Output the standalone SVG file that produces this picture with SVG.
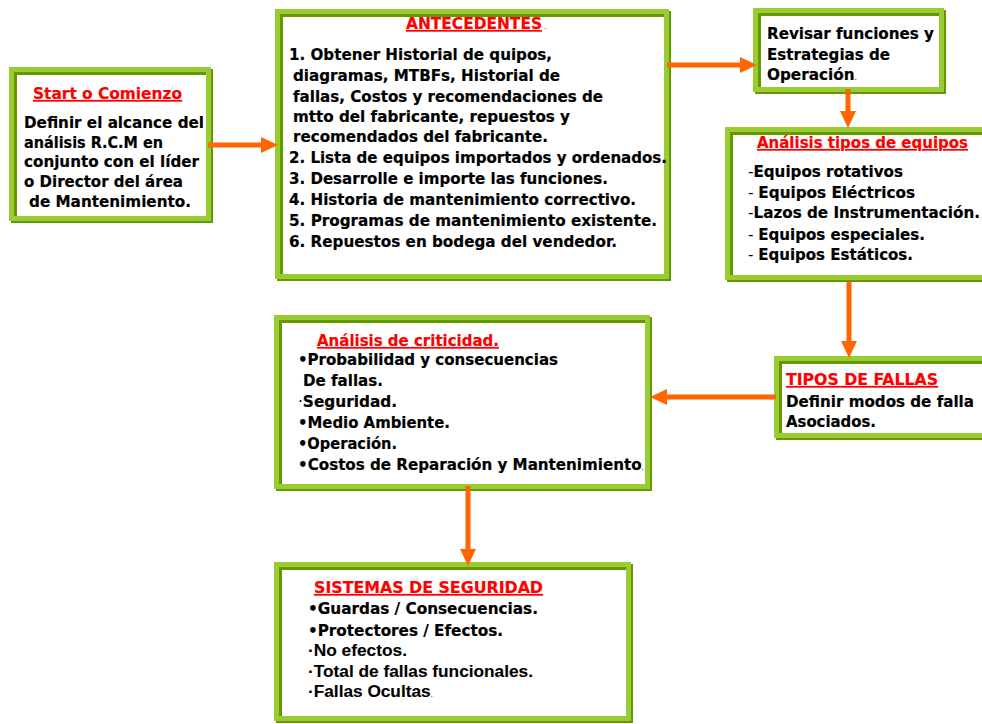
<svg xmlns="http://www.w3.org/2000/svg" width="982" height="724" viewBox="0 0 982 724">
  <style>
    .shadow { fill: #669900; }
    .frame { fill: #99cc33; }
    .inner { fill: #669900; }
    .face { fill: #ffffff; }
    text { font-family: "DejaVu Sans", Verdana, sans-serif; font-weight: bold; font-size: 16px; fill: #000000; stroke: #000000; stroke-width: 0.2px; }
    .title { fill: #ff0000; stroke: #ff0000; text-decoration: underline; }
    .thin { font-weight: normal; stroke-width: 0; }
    .tiny { font-weight: normal; font-size: 8px; stroke-width: 0; }
    .arial { font-family: "Liberation Sans", Arial, sans-serif; font-size: 16px; stroke-width: 0.1px; }
    .conn { stroke: #ff6600; stroke-width: 5; fill: none; marker-end: url(#head); }
  </style>
  <defs>
    <marker id="head" markerUnits="userSpaceOnUse" markerWidth="17" markerHeight="16" refX="0" refY="8" orient="auto">
      <path d="M0,0 L17,8 L0,16 Z" fill="#ff6600"/>
    </marker>
  </defs>

  <rect width="982" height="724" fill="#ffffff"/>

  <!-- Start o Comienzo -->
  <g id="start">
    <rect class="shadow" x="11" y="69" width="202" height="154"/>
    <rect class="frame" x="9" y="67" width="202" height="154"/>
    <rect class="inner" x="14" y="72" width="192" height="144"/>
    <rect class="face" x="17" y="75" width="189" height="141"/>
    <text class="title" x="33" y="99" textLength="149" lengthAdjust="spacingAndGlyphs">Start o Comienzo</text>
    <text x="24" y="128" textLength="180" lengthAdjust="spacingAndGlyphs">Definir el alcance del</text>
    <text x="24" y="148" textLength="139" lengthAdjust="spacingAndGlyphs">análisis R.C.M en</text>
    <text x="24" y="167" textLength="175" lengthAdjust="spacingAndGlyphs">conjunto con el líder</text>
    <text x="24" y="187" textLength="159" lengthAdjust="spacingAndGlyphs">o Director del área</text>
    <text x="29" y="207" textLength="162" lengthAdjust="spacingAndGlyphs">de Mantenimiento.</text>
  </g>

  <!-- Antecedentes -->
  <g id="antecedentes">
    <rect class="shadow" x="277" y="11" width="394" height="270"/>
    <rect class="frame" x="275" y="9" width="394" height="270"/>
    <rect class="inner" x="280" y="14" width="384" height="260"/>
    <rect class="face" x="283" y="17" width="381" height="257"/>
    <text class="title" x="406" y="29" textLength="136" lengthAdjust="spacingAndGlyphs">ANTECEDENTES</text>
    <text class="tiny" x="544" y="29" style="fill:#ff0000">.</text>
    <text x="289" y="60" textLength="263" lengthAdjust="spacingAndGlyphs">1. Obtener Historial de quipos,</text>
    <text x="293" y="81" textLength="267" lengthAdjust="spacingAndGlyphs">diagramas, MTBFs, Historial de</text>
    <text x="293" y="102" textLength="310" lengthAdjust="spacingAndGlyphs">fallas, Costos y recomendaciones de</text>
    <text x="293" y="122" textLength="277" lengthAdjust="spacingAndGlyphs">mtto del fabricante, repuestos y</text>
    <text x="293" y="142" textLength="255" lengthAdjust="spacingAndGlyphs">recomendados del fabricante.</text>
    <text x="289" y="163" textLength="378" lengthAdjust="spacingAndGlyphs">2. Lista de equipos importados y ordenados.</text>
    <text x="289" y="184" textLength="319" lengthAdjust="spacingAndGlyphs">3. Desarrolle e importe las funciones.</text>
    <text x="289" y="205" textLength="347" lengthAdjust="spacingAndGlyphs">4. Historia de mantenimiento correctivo.</text>
    <text x="289" y="226" textLength="368" lengthAdjust="spacingAndGlyphs">5. Programas de mantenimiento existente.</text>
    <text x="289" y="247" textLength="328" lengthAdjust="spacingAndGlyphs">6. Repuestos en bodega del vendedor.</text>
  </g>

  <!-- Revisar funciones -->
  <g id="revisar">
    <rect class="shadow" x="755" y="10" width="191" height="84"/>
    <rect class="frame" x="753" y="8" width="191" height="84"/>
    <rect class="inner" x="758" y="13" width="181" height="74"/>
    <rect class="face" x="761" y="16" width="178" height="71"/>
    <text x="767" y="39" textLength="167" lengthAdjust="spacingAndGlyphs">Revisar funciones y</text>
    <text x="767" y="60" textLength="123" lengthAdjust="spacingAndGlyphs">Estrategias de</text>
    <text x="767" y="80" textLength="90" lengthAdjust="spacingAndGlyphs">Operación<tspan class="tiny">.</tspan></text>
  </g>

  <!-- Análisis tipos de equipos -->
  <g id="tipos-equipos">
    <rect class="shadow" x="727" y="129" width="265" height="153"/>
    <rect class="frame" x="725" y="127" width="265" height="153"/>
    <rect class="inner" x="730" y="132" width="262" height="143"/>
    <rect class="face" x="733" y="135" width="259" height="140"/>
    <text class="title" x="757" y="148" textLength="211" lengthAdjust="spacingAndGlyphs">Análisis tipos de equipos</text>
    <text x="748" y="177" textLength="155" lengthAdjust="spacingAndGlyphs"><tspan class="thin">-</tspan>Equipos rotativos</text>
    <text x="748" y="198" textLength="167" lengthAdjust="spacingAndGlyphs"><tspan class="thin">- </tspan>Equipos Eléctricos</text>
    <text x="748" y="218" textLength="232" lengthAdjust="spacingAndGlyphs"><tspan class="thin">-</tspan>Lazos de Instrumentación.</text>
    <text x="748" y="240" textLength="177" lengthAdjust="spacingAndGlyphs"><tspan class="thin">- </tspan>Equipos especiales.</text>
    <text x="748" y="260" textLength="165" lengthAdjust="spacingAndGlyphs"><tspan class="thin">- </tspan>Equipos Estáticos.</text>
  </g>

  <!-- Análisis de criticidad -->
  <g id="criticidad">
    <rect class="shadow" x="276" y="317" width="376" height="174"/>
    <rect class="frame" x="274" y="315" width="376" height="174"/>
    <rect class="inner" x="279" y="320" width="366" height="164"/>
    <rect class="face" x="282" y="323" width="363" height="161"/>
    <text class="title" x="317" y="346" textLength="182" lengthAdjust="spacingAndGlyphs">Análisis de criticidad.</text>
    <text x="298" y="365" textLength="260" lengthAdjust="spacingAndGlyphs">•Probabilidad y consecuencias</text>
    <text x="303" y="386" textLength="80" lengthAdjust="spacingAndGlyphs">De fallas.</text>
    <text x="298" y="407" textLength="99" lengthAdjust="spacingAndGlyphs"><tspan class="thin">·</tspan>Seguridad.</text>
    <text x="298" y="428" textLength="152" lengthAdjust="spacingAndGlyphs">•Medio Ambiente.</text>
    <text x="298" y="449" textLength="99" lengthAdjust="spacingAndGlyphs">•Operación.</text>
    <text x="298" y="470" textLength="346" lengthAdjust="spacingAndGlyphs">•Costos de Reparación y Mantenimiento<tspan class="tiny">.</tspan></text>
  </g>

  <!-- Tipos de fallas -->
  <g id="tipos-fallas">
    <rect class="shadow" x="776" y="358" width="216" height="82"/>
    <rect class="frame" x="774" y="356" width="216" height="82"/>
    <rect class="inner" x="779" y="361" width="213" height="72"/>
    <rect class="face" x="782" y="364" width="210" height="69"/>
    <text class="title" x="786" y="385" textLength="152" lengthAdjust="spacingAndGlyphs">TIPOS DE FALLAS</text>
    <text x="786" y="407" textLength="188" lengthAdjust="spacingAndGlyphs">Definir modos de falla</text>
    <text x="786" y="427" textLength="90" lengthAdjust="spacingAndGlyphs">Asociados.</text>
  </g>

  <!-- Sistemas de seguridad -->
  <g id="sistemas">
    <rect class="shadow" x="276" y="564" width="357" height="159"/>
    <rect class="frame" x="274" y="562" width="357" height="159"/>
    <rect class="inner" x="279" y="567" width="347" height="149"/>
    <rect class="face" x="282" y="570" width="344" height="146"/>
    <text class="title" x="314" y="593" textLength="229" lengthAdjust="spacingAndGlyphs">SISTEMAS DE SEGURIDAD</text>
    <text x="308" y="614" textLength="230" lengthAdjust="spacingAndGlyphs">•Guardas / Consecuencias.</text>
    <text x="308" y="636" textLength="195" lengthAdjust="spacingAndGlyphs">•Protectores / Efectos.</text>
    <text class="arial" x="308" y="656" textLength="99" lengthAdjust="spacingAndGlyphs">·No efectos.</text>
    <text class="arial" x="308" y="677" textLength="225" lengthAdjust="spacingAndGlyphs">·Total de fallas funcionales.</text>
    <text class="arial" x="308" y="697" textLength="125" lengthAdjust="spacingAndGlyphs">·Fallas Ocultas<tspan class="tiny">.</tspan></text>
  </g>

  <!-- Flow arrows -->
  <g id="connectors">
    <path class="conn" d="M208,145 L261,145"/>
    <path class="conn" d="M667,65 L740,65"/>
    <path class="conn" d="M848,89 L848,111"/>
    <path class="conn" d="M849,282 L849,341"/>
    <path class="conn" d="M776,397 L667,397"/>
    <path class="conn" d="M468,486 L468,549"/>
  </g>
</svg>
